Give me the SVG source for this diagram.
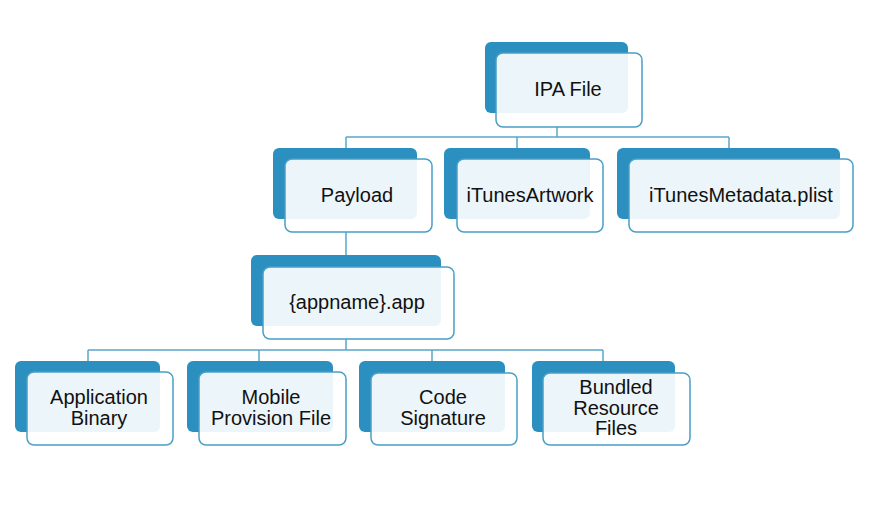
<svg xmlns="http://www.w3.org/2000/svg" width="884" height="510" viewBox="0 0 884 510">
<style>
.bk{fill:#2b8fbf}
.fr{fill:#ffffff;fill-opacity:0.91;stroke:#4a9fc7;stroke-width:1.5}
.t{font-family:"Liberation Sans",Arial,sans-serif;font-size:20px;fill:#111;text-anchor:middle}
.c{fill:none;stroke:#5aa6c9;stroke-width:1.5}
</style>
<rect width="884" height="510" fill="#ffffff"/>
<g id="connectors">
<path class="c" d="M557 127V137M346 137H729M346 137V159M517 137V159M729 137V159"/>
<path class="c" d="M346 232V267M346 339V350M88 350H603M88 350V372M259 350V372M432 350V372M603 350V372"/>
</g>
<g id="ipa">
<rect class="bk" x="485" y="42" width="143" height="71" rx="6"/>
<rect class="fr" x="496" y="53" width="146" height="74" rx="7"/>
<text class="t" x="568" y="96">IPA File</text>
</g>
<g id="payload">
<rect class="bk" x="273" y="148" width="144" height="71" rx="6"/>
<rect class="fr" x="285" y="159" width="147" height="73" rx="7"/>
<text class="t" x="357" y="202">Payload</text>
</g>
<g id="itunesartwork">
<rect class="bk" x="444" y="148" width="146" height="71" rx="6"/>
<rect class="fr" x="457" y="159" width="146" height="73" rx="7"/>
<text class="t" x="530" y="202">iTunesArtwork</text>
</g>
<g id="itunesmetadata">
<rect class="bk" x="617" y="148" width="223" height="71" rx="6"/>
<rect class="fr" x="629" y="159" width="224" height="73" rx="7"/>
<text class="t" x="741" y="202">iTunesMetadata.plist</text>
</g>
<g id="appname">
<rect class="bk" x="251" y="255" width="190" height="71" rx="6"/>
<rect class="fr" x="263" y="267" width="191" height="72" rx="7"/>
<text class="t" x="357" y="309">{appname}.app</text>
</g>
<g id="appbinary">
<rect class="bk" x="15" y="361" width="145" height="71" rx="6"/>
<rect class="fr" x="27" y="372" width="146" height="73" rx="7"/>
<text class="t" x="99" y="404">Application</text>
<text class="t" x="99" y="425">Binary</text>
</g>
<g id="mobileprovision">
<rect class="bk" x="187" y="361" width="146" height="71" rx="6"/>
<rect class="fr" x="199" y="372" width="147" height="73" rx="7"/>
<text class="t" x="271" y="404">Mobile</text>
<text class="t" x="271" y="425">Provision File</text>
</g>
<g id="codesignature">
<rect class="bk" x="359" y="361" width="146" height="71" rx="6"/>
<rect class="fr" x="371" y="373" width="146" height="72" rx="7"/>
<text class="t" x="443" y="404">Code</text>
<text class="t" x="443" y="425">Signature</text>
</g>
<g id="bundled">
<rect class="bk" x="532" y="361" width="143" height="71" rx="6"/>
<rect class="fr" x="543" y="373" width="147" height="72" rx="7"/>
<text class="t" x="616" y="394">Bundled</text>
<text class="t" x="616" y="415">Resource</text>
<text class="t" x="616" y="435">Files</text>
</g>
</svg>
